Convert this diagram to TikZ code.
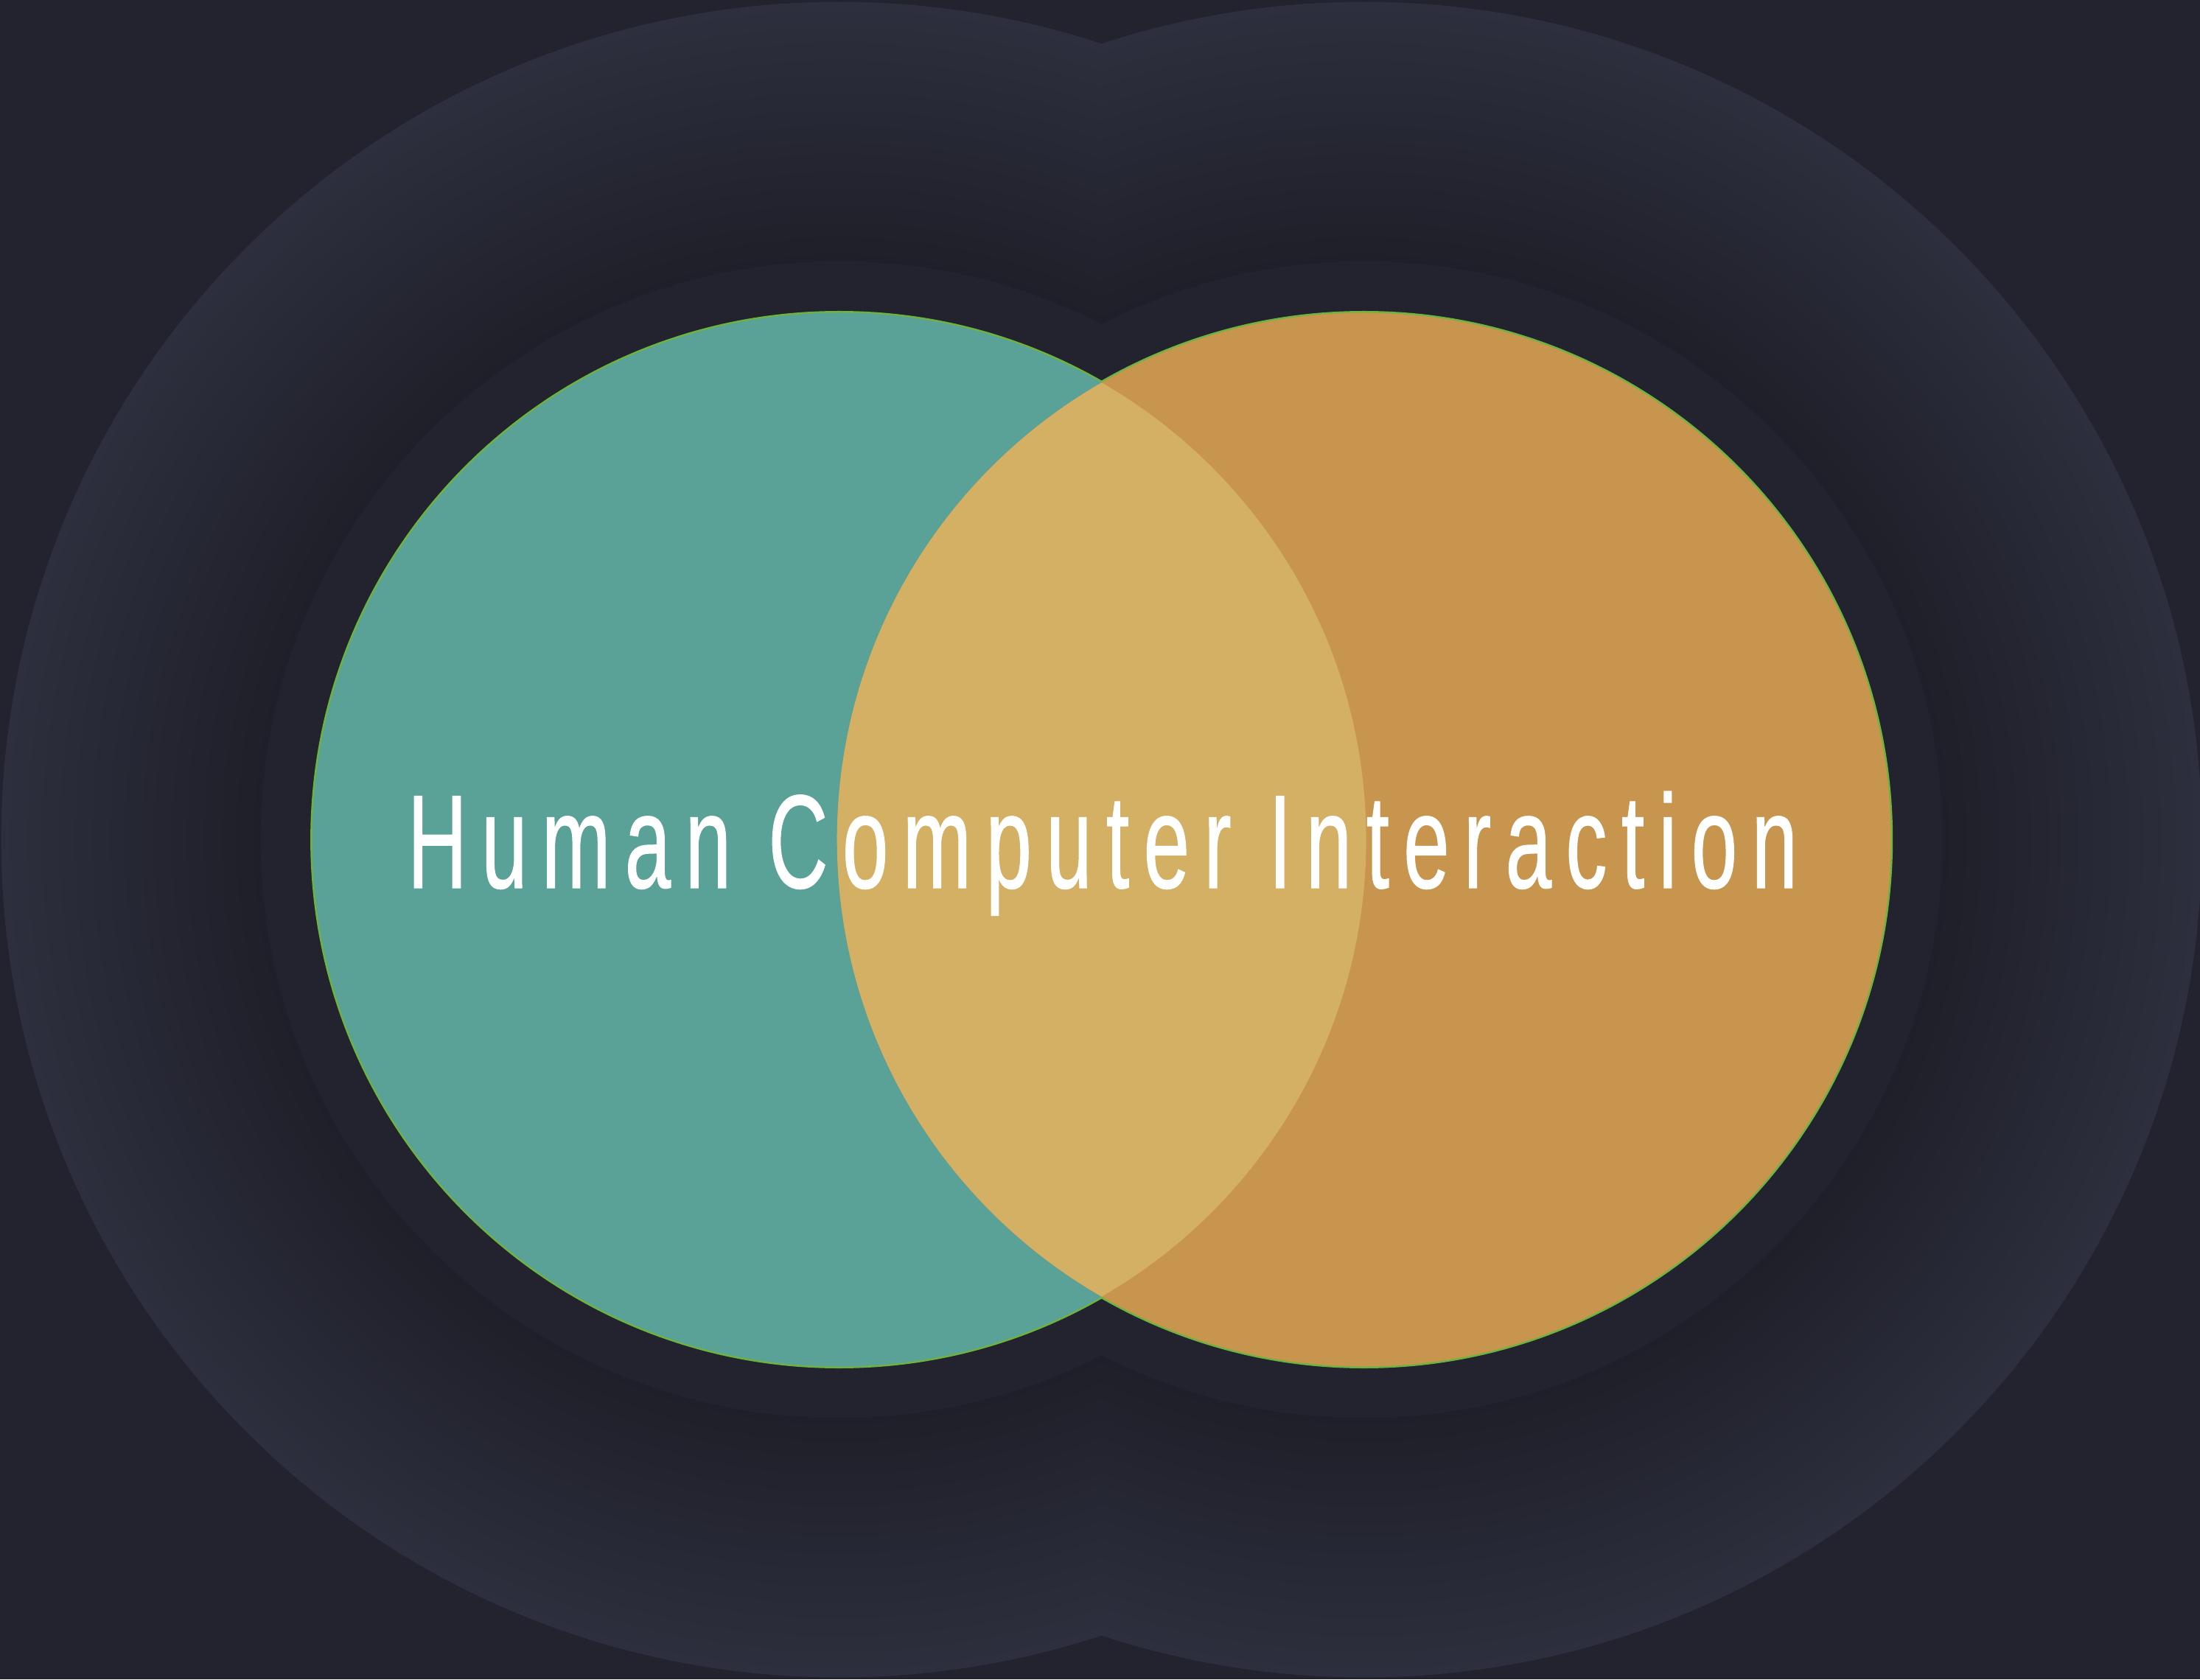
\documentclass[tikz,border=0pt]{standalone}
\usepackage{fontspec}
\newfontfamily\hcifont[FakeStretch=0.62,LetterSpace=10.7,FakeBold=0.6]{Liberation Sans}
\definecolor{bgcol}{HTML}{22232F}
\definecolor{glowin}{HTML}{1E1F28}
\definecolor{glowout}{HTML}{2D2F3E}
\definecolor{tealcol}{HTML}{5AA298}
\definecolor{orangecol}{HTML}{C8954F}
\definecolor{overlapcol}{HTML}{D4B064}
\definecolor{rimcol}{HTML}{6DB33F}

\begin{document}
\begin{tikzpicture}
    \useasboundingbox (0, 0) rectangle (29.85, 22.79);
    \fill[bgcol] (0, 0) rectangle (29.85, 22.79);

    \coordinate (L) at (11.386, 11.395);
    \coordinate (R) at (18.507, 11.395);

    % shadow rings, light at the rim and dark inside
    \foreach \i in {0,...,88} {
        \pgfmathsetmacro{\r}{11.37 - \i*0.04}
        \pgfmathsetmacro{\p}{100*\i/88}
        \fill[glowin!\p!glowout] (L) circle(\r cm);
        \fill[glowin!\p!glowout] (R) circle(\r cm);
    }
    \fill[bgcol] (L) circle(7.85cm);
    \fill[bgcol] (R) circle(7.85cm);

    % the two sets
    \fill[rimcol] (L) circle(7.175cm);
    \fill[rimcol] (R) circle(7.175cm);
    \fill[tealcol] (L) circle(7.15cm);
    \fill[orangecol] (R) circle(7.15cm);
    \begin{scope}
        \clip (L) circle(7.15cm);
        \fill[overlapcol] (R) circle(7.15cm);
    \end{scope}

    \node[white, inner sep=0pt, anchor=base] (title) at (14.96, 10.74)
        {\hcifont\fontsize{51.5}{60}\selectfont Human Computer Interaction};
\end{tikzpicture}
\end{document}
